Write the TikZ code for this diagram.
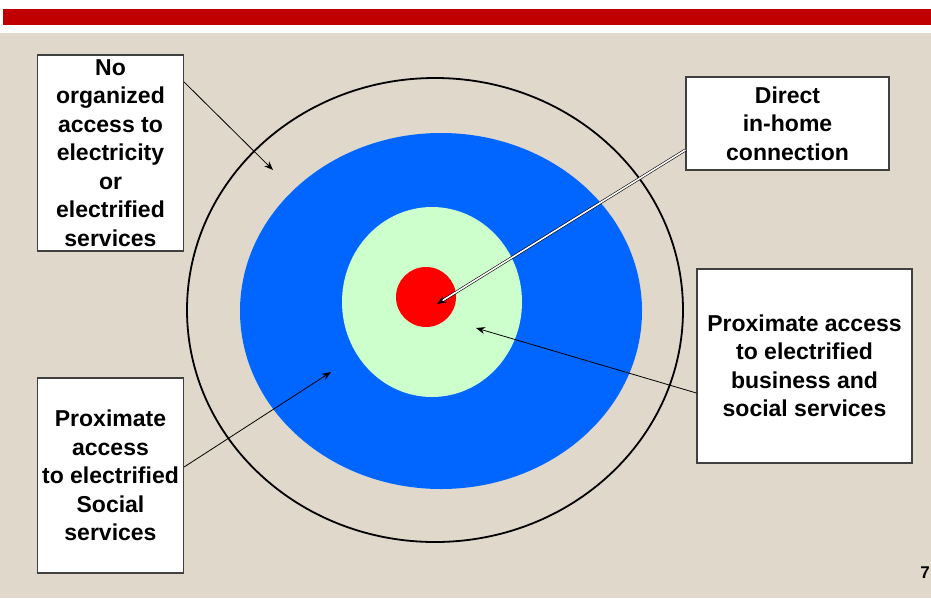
\documentclass[tikz,border=0pt]{standalone}
\usepackage{fontspec}
\setmainfont{Liberation Sans}
\usetikzlibrary{arrows.meta}

\definecolor{sand}{RGB}{224,216,202}
\definecolor{bandred}{RGB}{192,0,0}
\definecolor{ringblue}{RGB}{0,102,255}
\definecolor{ringgreen}{RGB}{204,255,204}
\definecolor{bullred}{RGB}{255,0,0}

\tikzset{
  label box/.style={draw=black!75, line width=1.2pt, fill=white, inner sep=0pt,
    align=center, font=\fontsize{23}{28.5}\selectfont\bfseries},
  pointer/.style={line width=0.8pt, -{Stealth[length=9pt, width=7pt]}}
}

\begin{document}
\begin{tikzpicture}[x=1pt, y=-1pt]
  \useasboundingbox (0,0) rectangle (931,598);
  % --- background and top band ---
  \fill[white] (0,0) rectangle (931,33);
  \fill[bandred] (3,9) rectangle (931,25);
  \fill[sand] (0,33) rectangle (931,598);

  % --- target rings ---
  \draw[line width=1.8pt] (435,310) ellipse [x radius=248, y radius=232];
  \fill[ringblue] (441,311) ellipse [x radius=201, y radius=178];
  \fill[ringgreen] (432,302) ellipse [x radius=90, y radius=95];
  \fill[bullred] (426,297) circle [radius=30];

  % --- labels ---
  \node[label box, minimum width=146pt, minimum height=196pt] (noaccess) at (110.5,153)
    {No\\organized\\access to\\electricity\\or\\electrified\\services};
  \node[label box, minimum width=203pt, minimum height=93pt] (inhome) at (787.5,123.5)
    {Direct\\in-home\\connection};
  \node[label box, minimum width=215pt, minimum height=194pt] (business) at (804.5,366)
    {Proximate access\\to electrified\\business and\\social services};
  \node[label box, minimum width=146pt, minimum height=195pt] (social) at (110.5,475.5)
    {Proximate\\access\\to electrified\\Social\\services};
  \node[anchor=east, inner sep=1pt, font=\fontsize{17}{20}\selectfont\bfseries] (page) at (931,573) {7};

  % --- pointers ---
  \coordinate (outer tip) at (273,170);
  \coordinate (bull tip) at (437,304);
  \coordinate (green tip) at (476,328);
  \coordinate (blue tip) at (331,372);

  \draw[pointer] ([yshift=71pt]noaccess.east) -- (outer tip);
  \draw[line width=0.6pt, double=white, double distance=1.6pt, -{Stealth[length=9pt, width=7pt, fill=black]}]
    ([yshift=-26.5pt]inhome.west) -- (bull tip);
  \draw[pointer] ([yshift=-27pt]business.west) -- (green tip);
  \draw[pointer] ([yshift=8.5pt]social.east) -- (blue tip);
\end{tikzpicture}
\end{document}
